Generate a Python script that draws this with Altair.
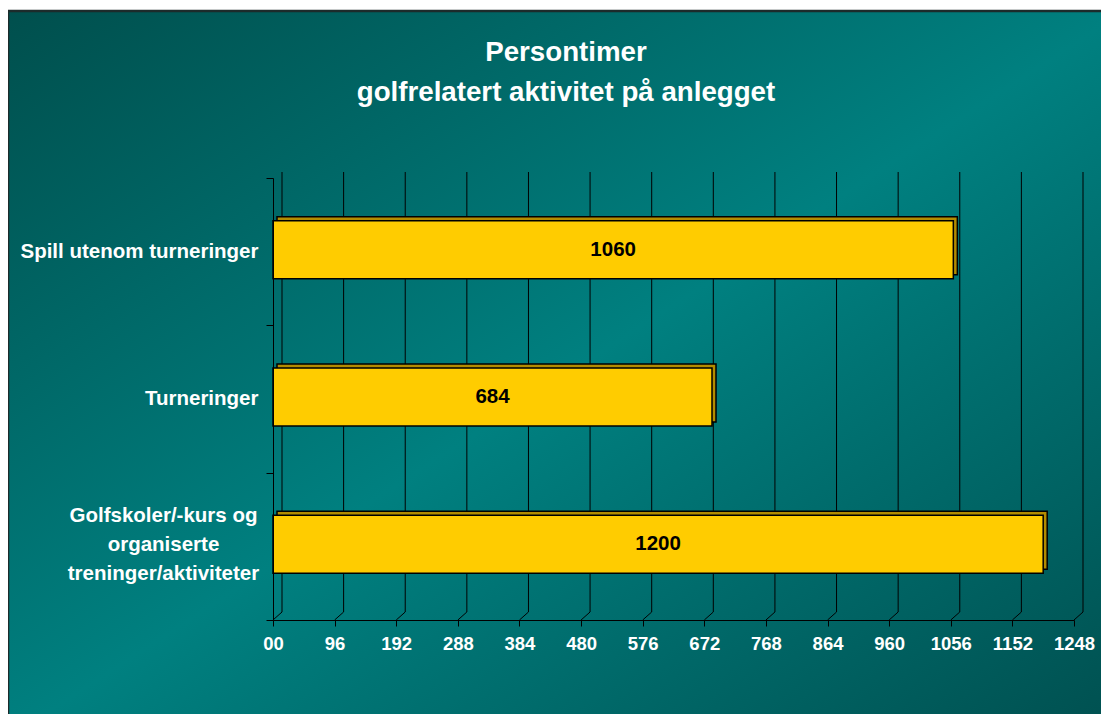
import altair as alt
import pandas as pd

categories = [
    "Spill utenom turneringer",
    "Turneringer",
    "Golfskoler/-kurs og|organiserte|treninger/aktiviteter",
]
values = [1060, 684, 1200]
x_ticks = [0, 96, 192, 288, 384, 480, 576, 672, 768, 864, 960, 1056, 1152, 1248]
title_lines = ["Persontimer", "golfrelatert aktivitet på anlegget"]

FONT = "Liberation Sans"
W, H = 801, 442
PAD_L, PAD_T, PAD_R, PAD_B = 265, 170, 27, 94

bars = pd.DataFrame({"cat": categories, "val": values})
grid = pd.DataFrame({"v": x_ticks})

x_scale = alt.Scale(domain=[0, 1248], nice=False, zero=True)
x_axis = alt.Axis(
    title=None, values=x_ticks, format="d",
    labelExpr="datum.value == 0 ? '00' : datum.label",
    grid=False, tickSize=6, tickColor="black", domainColor="black",
    labelColor="white", labelFont=FONT, labelFontSize=18.5, labelFontWeight="bold",
    labelPadding=8, labelFlush=False, labelOverlap=False, zindex=1,
)
y_axis = alt.Axis(
    title=None, labels=False, tickBand="extent",
    tickSize=7, tickColor="black", domainColor="black", grid=False, zindex=1,
)
y_enc = alt.Y("cat:N", sort=None, scale=alt.Scale(paddingInner=0, paddingOuter=0), axis=y_axis)

gradient = alt.LinearGradient(
    gradient="linear",
    stops=[
        alt.GradientStop(color="#004f4d", offset=0),
        alt.GradientStop(color="#008080", offset=0.5),
        alt.GradientStop(color="#004f4f", offset=1),
    ],
    x1=0, y1=0, x2=1, y2=1,
)

background = alt.Chart(pd.DataFrame({"a": [0]})).mark_rect(
    fill=gradient, stroke="#1c2b2b", strokeWidth=2.5
).encode(
    x=alt.value(-PAD_L), x2=alt.value(W + PAD_R + 24),
    y=alt.value(-PAD_T + 3), y2=alt.value(H + PAD_B + 24),
)

gridlines = alt.Chart(grid).mark_rule(color="black", strokeWidth=1, xOffset=9).encode(
    x=alt.X("v:Q", scale=x_scale, axis=x_axis),
    y=alt.value(-6), y2=alt.value(H - 8),
)
diagonals = alt.Chart(grid).mark_rule(color="black", strokeWidth=1, x2Offset=9).encode(
    x=alt.X("v:Q", scale=x_scale, axis=x_axis), x2="v:Q",
    y=alt.value(H), y2=alt.value(H - 8),
)

back_bars = alt.Chart(bars).mark_bar(
    size=58, color="#b38c00", stroke="black", strokeWidth=1.5,
    xOffset=4, x2Offset=4, yOffset=-6,
).encode(x=alt.X("val:Q", scale=x_scale, axis=x_axis), y=y_enc)

front_bars = alt.Chart(bars).mark_bar(
    size=58, color="#ffcc00", stroke="black", strokeWidth=1.5, yOffset=-2,
).encode(x=alt.X("val:Q", scale=x_scale, axis=x_axis), y=y_enc)

bar_text = alt.Chart(bars).transform_calculate(half="datum.val / 2").mark_text(
    font=FONT, fontSize=20.5, fontWeight="bold", color="black", baseline="middle", dy=-2,
).encode(x=alt.X("half:Q", scale=x_scale, axis=x_axis), y=y_enc, text="val:Q")

multi = "indexof(datum.cat, '|') >= 0"
y_labels = alt.Chart(bars).transform_calculate(lab="split(datum.cat, '|')").mark_text(
    font=FONT, fontSize=20.5, fontWeight="bold", color="white", baseline="middle",
    lineHeight=29,
    align=alt.ExprRef(f"{multi} ? 'center' : 'right'"),
    dx=alt.ExprRef(f"{multi} ? -95 : 0"),
    dy=alt.ExprRef(f"{multi} ? -30 : 0"),
).encode(y=y_enc, x=alt.value(-14.5), text="lab:N")

title = alt.Chart(pd.DataFrame({"a": [0]})).mark_text(
    font=FONT, fontSize=27.7, fontWeight="bold", color="white",
    align="center", baseline="middle", lineHeight=40,
).encode(x=alt.value(293), y=alt.value(-125), text=alt.value(title_lines))

chart = alt.layer(
    background, gridlines, diagonals, back_bars, front_bars, bar_text, y_labels, title
).properties(
    width=W, height=H,
    padding={"left": PAD_L, "top": PAD_T, "right": PAD_R, "bottom": PAD_B},
    autosize=alt.AutoSizeParams(type="none"),
).configure_view(stroke=None)

chart.save("out.html", embed_options={"renderer": "svg", "actions": False})
